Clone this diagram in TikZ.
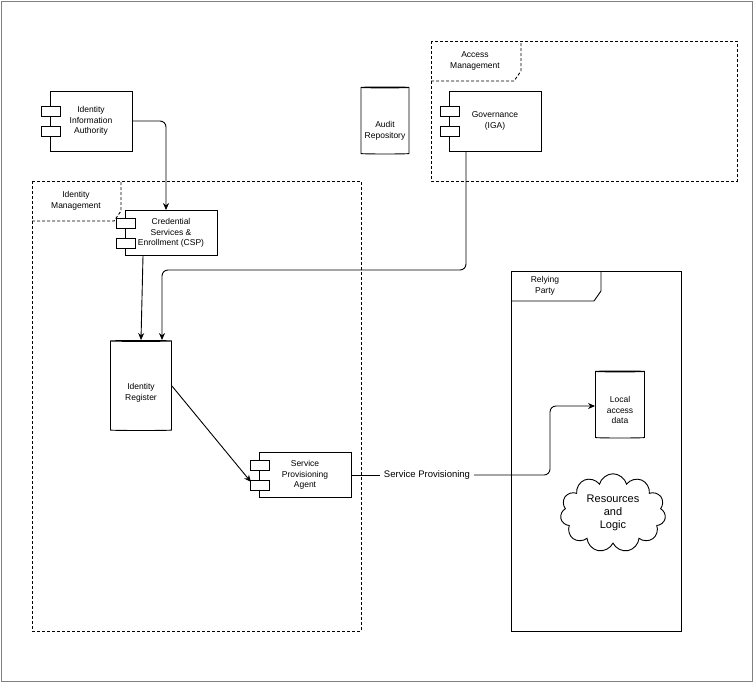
\documentclass[tikz,border=0pt]{standalone}
\usepackage{fontspec}
\setmainfont{Liberation Sans}
\usetikzlibrary{shapes.geometric, shapes.symbols, positioning, arrows.meta}

\begin{document}
\begin{tikzpicture}
		[x=1pt, y=-1pt, line width=0.9pt,
		font=\fontsize{8.5}{10.5}\selectfont,
		comp/.style = {draw=black, rectangle, fill=white, inner sep=1pt, align=center},
		tab/.style = {draw=black, rectangle, fill=white, minimum width=19pt, minimum height=10pt, inner sep=0pt},
		db/.style = {draw=black, cylinder, shape border rotate=90, aspect=0.45, align=center, inner sep=1pt},
		frame/.style = {draw=black, dash pattern=on 3pt off 2pt},
		arr/.style = {-{Stealth[length=7pt, width=6pt]}, rounded corners=6pt}]
		
		\useasboundingbox (0,0) rectangle (754,683);
		\draw[gray, line width=0.6pt] (1,1) rectangle (752,681);
		
		% frames
		\draw[frame] (431,41) rectangle (737,181);
		\draw[frame] (431,81) -- (514,81) -- (521,71) -- (521,41);
		\node (accesslbl) at (475,61) [align=center] {Access\\Management};
		\draw[frame] (32,181) rectangle (361,631);
		\draw[frame] (32,221) -- (114,221) -- (121,211) -- (121,181);
		\node (idmlbl) at (76,201) [align=center] {Identity\\Management};
		\draw (511,271) rectangle (681,631);
		\draw (511,301) -- (594,301) -- (601,291) -- (601,271);
		\node (rplbl) at (545,286) [align=center] {Relying\\Party};
		
		% components
		\foreach \name/\x/\y/\w/\h/\txt in {
			iia/91/121/82/60/{Identity\\Information\\Authority},
			iga/495/121/92/60/{Governance\\(IGA)},
			csp/171/233/92/45/{Credential\\Services \&\\Enrollment (CSP)},
			spa/305/475/92/45/{Service\\Provisioning\\Agent}}
		{
			\node[comp, minimum width=\w pt, minimum height=\h pt] (\name) at (\x,\y) {\txt};
			\node[tab, anchor=west] at ([xshift=-9pt, yshift=-10pt]\name.west) {};
			\node[tab, anchor=west] at ([xshift=-9pt, yshift=10pt]\name.west) {};
		}
		
		% data stores
		\node[db, minimum width=48pt, minimum height=67pt] (audit) at (385,121) {};
		\node[align=center] at (385,131) {Audit\\Repository};
		\node[db, minimum width=61pt, minimum height=90pt] (register) at (141,386) {};
		\node[align=center] at (141,393) {Identity\\Register};
		\node[db, minimum width=49pt, minimum height=67pt] (local) at (620,405) {};
		\node[align=center] at (620,410) {Local\\access\\data};
		\node[cloud, draw=black, cloud puffs=11, aspect=1.6, minimum width=105pt, minimum height=65pt, align=center, font=\fontsize{11}{13}\selectfont] (res) at (613,513) {Resources\\and\\Logic};
		
		% connectors
		\draw[arr] (iia.east) -| (csp.north -| 166,0);
		\draw[arr] ([xshift=-28pt]csp.south) -- ([xshift=0pt]register.north);
		\draw[arr] (iga.south -| 466,0) |- (162,270) -- ([xshift=21pt]register.north);
		\draw[arr] (register.east) -- ([yshift=-7pt]spa.west -| 251,0);
		\node (provlbl) at (427,475) {\fontsize{9.5}{11}\selectfont Service Provisioning};
		\draw (spa.east) -- (provlbl.west);
		\draw[arr] (provlbl.east) -| (550,406) -- (local.west |- 0,406);
		
	\end{tikzpicture}
\end{document}
